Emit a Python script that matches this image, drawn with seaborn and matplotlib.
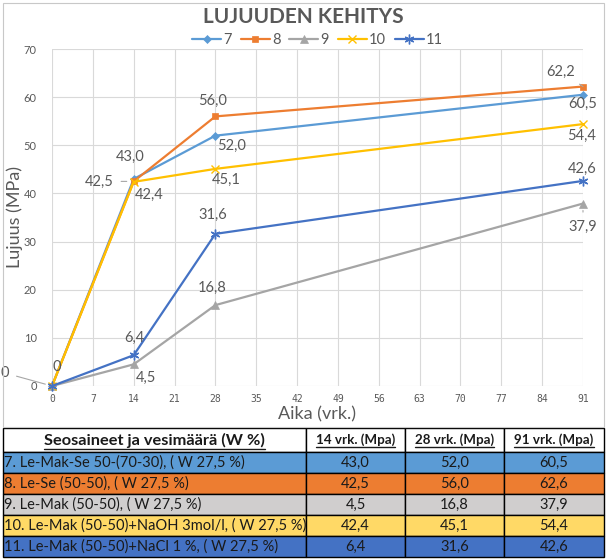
import numpy as np
import pandas as pd
import matplotlib
matplotlib.use('Agg')
import matplotlib.pyplot as plt
from matplotlib.patches import Rectangle
from matplotlib.lines import Line2D
import seaborn as sns

# ── data ──────────────────────────────────────────────
days = [0, 14, 28, 91]
series_names = ['7', '8', '9', '10', '11']
s7 = [0, 43.0, 52.0, 60.5]
s8 = [0, 42.5, 56.0, 62.2]
s9 = [0, 4.5, 16.8, 37.9]
s10 = [0, 42.4, 45.1, 54.4]
s11 = [0, 6.4, 31.6, 42.6]
values = [s7, s8, s9, s10, s11]

table_names = ['7. Le-Mak-Se 50-(70-30), ( W 27,5 %)',
               '8. Le-Se (50-50), ( W 27,5 %)',
               '9. Le-Mak (50-50), ( W 27,5 %)',
               '10. Le-Mak (50-50)+NaOH 3mol/l, ( W 27,5 %)',
               '11. Le-Mak (50-50)+NaCl 1 %, ( W 27,5 %)']
table_14 = [43.0, 42.5, 4.5, 42.4, 6.4]
table_28 = [52.0, 56.0, 16.8, 45.1, 31.6]
table_91 = [60.5, 62.6, 37.9, 54.4, 42.6]
table_header = ['Seosaineet ja vesimäärä (W %)', '14 vrk. (Mpa)',
                '28 vrk. (Mpa)', '91 vrk. (Mpa)']

colors = ['#5B9BD5', '#ED7D31', '#A5A5A5', '#FFC000', '#4472C4']
row_colors = ['#5B9BD5', '#ED7D31', '#D0CECE', '#FFD966', '#4472C4']
markers = ['D', 's', '^', 'x', (6, 2, 0)]
msizes = [4.5, 5, 6, 6, 7]

# label offsets (pixels) for each series / point
offsets = {
    '7':  [None, (-4, 22, 'center'), (16, -10, 'center'), (0, -9, 'center')],
    '8':  [None, (-20, 0, 'right'), (-3, 16, 'center'), (-22, 15, 'center')],
    '9':  [(5, 19, 'center'), (12, -14, 'center'), (-3, 17, 'center'), (0, -23, 'center')],
    '10': [None, (15, -13, 'center'), (11, -11, 'center'), (-1, -12, 'center')],
    '11': [(-47, 13, 'center'), (1, 17, 'center'), (-3, 19, 'center'), (-1, 12, 'center')],
}
leaders = {('8', 1), ('8', 3), ('9', 3), ('11', 0)}

W, H = 607, 559
grey = '#595959'

sns.set_theme(style='white')
plt.rcParams['font.family'] = ['Lato', 'DejaVu Sans']

df = pd.DataFrame({'aika': days * 5,
                   'lujuus': sum(values, []),
                   'sarja': [n for n in series_names for _ in days]})

fig = plt.figure(figsize=(W / 100, H / 100), dpi=100)
fig.patch.set_facecolor('white')
fig.add_artist(Rectangle((3 / W, 1 - 427 / H), 601 / W, 424 / H,
                         transform=fig.transFigure, fill=False,
                         edgecolor='#c8c8c8', lw=0.8))

ax = fig.add_axes([52 / W, 1 - 386 / H, 531 / W, 337 / H])
for name, col, mk, ms in zip(series_names, colors, markers, msizes):
    sns.lineplot(data=df[df['sarja'] == name], x='aika', y='lujuus', ax=ax,
                 color=col, marker=mk, markersize=ms, linewidth=1.6,
                 markeredgecolor=col, markeredgewidth=1.0 if mk in ('x', (6, 2, 0)) else 0.5,
                 label=name, clip_on=False, zorder=3)

ax.set_xlim(0, 91)
ax.set_ylim(0, 70)
ax.set_xticks(np.arange(0, 92, 7))
ax.set_yticks(np.arange(0, 71, 10))
ax.grid(True, color='#d9d9d9', lw=0.8)
for sp in ax.spines.values():
    sp.set_visible(False)
ax.tick_params(axis='y', length=0, pad=11, labelsize=8, labelcolor=grey)
ax.tick_params(axis='x', length=0, pad=6, labelsize=7, labelcolor=grey)
for t in ax.get_xticklabels():
    t.set_fontfamily('DejaVu Sans Mono')

ax.set_xlabel('Aika (vrk.)', fontsize=13, color=grey)
ax.set_ylabel('Lujuus (MPa)', fontsize=13, color=grey)
ax.xaxis.set_label_coords(0.5, -(414 - 386) / 337)
ax.xaxis.label.set_va('center')
ax.yaxis.set_label_coords((15 - 52) / 531, 0.5)
ax.yaxis.label.set_va('center')

# data labels
for name, vals in zip(series_names, values):
    for i, (x, v) in enumerate(zip(days, vals)):
        off = offsets[name][i]
        if off is None:
            continue
        dx, dy, ha = off
        txt = '0' if v == 0 else f'{v:.1f}'.replace('.', ',')
        ap = None
        if (name, i) in leaders:
            ap = dict(arrowstyle='-', color='#a6a6a6', lw=0.8,
                      shrinkA=3, shrinkB=5)
        ax.annotate(txt, (x, v), xytext=(dx, dy), textcoords='offset pixels',
                    ha=ha, va='center', fontsize=10.5, color=grey,
                    arrowprops=ap, annotation_clip=False, zorder=4)

leg = ax.legend(loc='center', bbox_to_anchor=(0.5, 1 + 9 / 337), ncol=5,
                frameon=False, fontsize=10.5, handlelength=2.0,
                handletextpad=0.15, columnspacing=0.6, borderaxespad=0)
for t in leg.get_texts():
    t.set_color(grey)

fig.text(0.5, 1 - 17 / H, 'LUJUUDEN KEHITYS', ha='center', va='center',
         fontsize=15, fontweight='bold', color=grey)

# ── table ─────────────────────────────────────────────
tax = fig.add_axes([3 / W, 1 - 557 / H, 601 / W, 129 / H])
tax.axis('off')
fmt = lambda v: f'{v:.1f}'.replace('.', ',')
cell_text = [[n, fmt(a), fmt(b), fmt(c)]
             for n, a, b, c in zip(table_names, table_14, table_28, table_91)]
col_w = [303, 99, 99, 100]
tbl = tax.table(cellText=cell_text, colLabels=table_header,
                colWidths=[c / sum(col_w) for c in col_w],
                cellColours=[[c] * 4 for c in row_colors],
                cellLoc='center', bbox=[0, 0, 1, 1])
tbl.auto_set_font_size(False)
for (r, c), cell in tbl.get_celld().items():
    cell.set_edgecolor('black')
    cell.set_linewidth(1.0)
    cell.PAD = 0.004
    txt = cell.get_text()
    txt.set_color('#1a1a1a')
    if r == 0:
        cell.set_height(24)
        txt.set_fontweight('bold')
        txt.set_fontsize(11.8 if c == 0 else 9.6)
    else:
        cell.set_height(21)
        txt.set_fontsize(10.5)
        if c == 0:
            txt.set_ha('left')

# underline header texts
fig.canvas.draw()
renderer = fig.canvas.get_renderer()
for c in range(4):
    bb = tbl[0, c].get_text().get_window_extent(renderer)
    y = bb.y0 - 1
    fig.add_artist(Line2D([bb.x0 / W, bb.x1 / W], [y / H, y / H],
                          transform=fig.transFigure, color='#1a1a1a', lw=1))

fig.savefig('out.png', dpi=100)
